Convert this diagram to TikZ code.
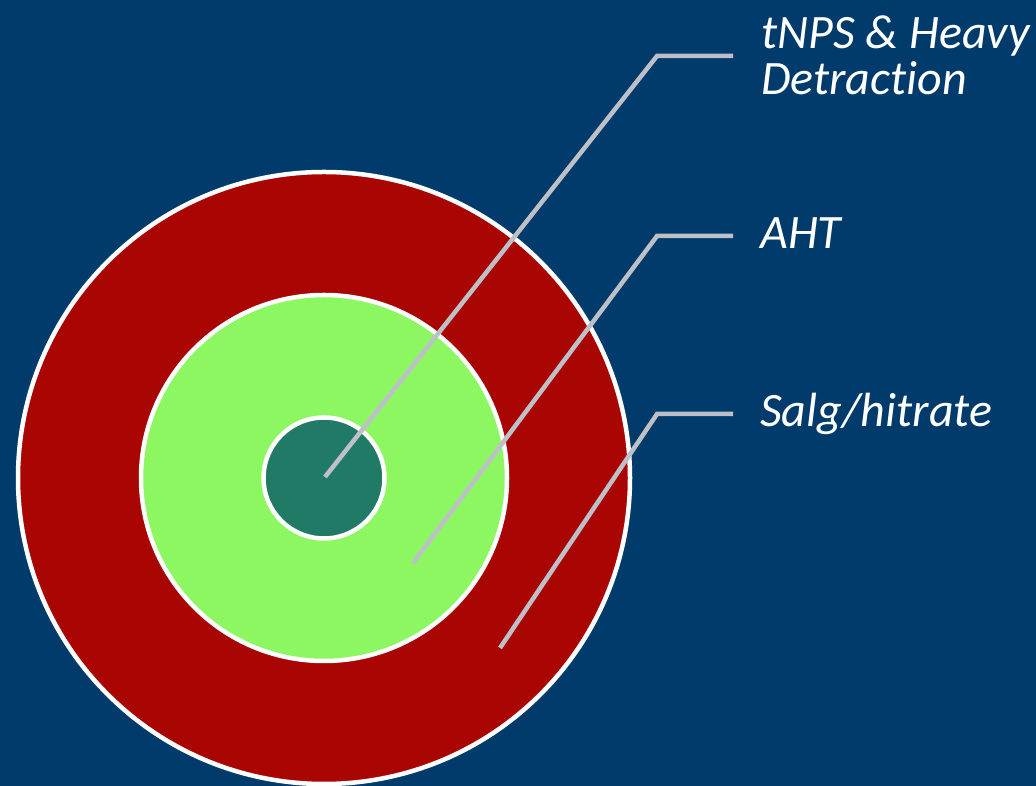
\documentclass[tikz,border=0pt]{standalone}
\usepackage{fontspec}
\setmainfont{Carlito}[Ligatures=NoCommon]
\definecolor{bgblue}{RGB}{0,59,107}
\definecolor{ringred}{RGB}{168,5,3}
\definecolor{ringgreen}{RGB}{140,247,96}
\definecolor{coregreen}{RGB}{33,122,102}
\definecolor{leadergray}{RGB}{190,192,200}
\begin{document}
\begin{tikzpicture}[x=1pt,y=1pt,
  ring/.style={circle,draw=white,line width=4.5pt,inner sep=0pt,minimum size=#1},
  leader/.style={draw=leadergray,line width=4.5pt,line join=miter},
  lbl/.style={anchor=base west,inner sep=0pt,text=white,align=left,
    font=\fontsize{48}{46}\selectfont\itshape}]
  % canvas
  \fill[bgblue] (0,0) rectangle (1036,786);
  \useasboundingbox (0,0) rectangle (1036,786);
  % target rings
  \node[ring=612pt,fill=ringred]   (outer)  at (324,308) {};
  \node[ring=366pt,fill=ringgreen] (middle) at (324,308) {};
  \node[ring=121pt,fill=coregreen] (core)   at (324,308) {};
  % labels (base west = baseline of the last line)
  \node[lbl] (l1) at (761,691) {tNPS \& Heavy\\Detraction};
  \node[lbl] (l2) at (760,537) {AHT};
  \node[lbl] (l3) at (760,359) {Salg/hitrate};
  % leader line points
  \coordinate (s1) at (325,309);
  \coordinate (c1) at (657,730);
  \coordinate (e1) at (733,730);
  \coordinate (s2) at (413,223);
  \coordinate (c2) at (657,550);
  \coordinate (e2) at (733,550);
  \coordinate (s3) at (500,138);
  \coordinate (c3) at (657,372);
  \coordinate (e3) at (733,372);
  \draw[leader] (s1) -- (c1) -- (e1);
  \draw[leader] (s2) -- (c2) -- (e2);
  \draw[leader] (s3) -- (c3) -- (e3);
\end{tikzpicture}
\end{document}
